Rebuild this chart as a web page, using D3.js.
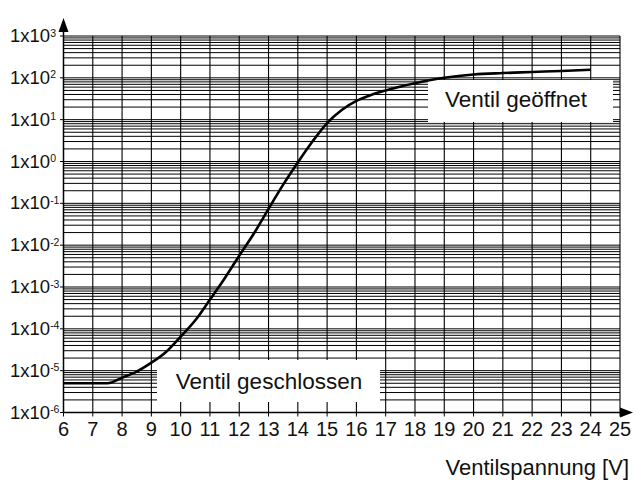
<!DOCTYPE html>
<html>
<head>
<meta charset="utf-8">
<script src="https://cdn.jsdelivr.net/npm/d3@7/dist/d3.min.js"></script>
<style>
body { margin: 0; background: #fff; }
text { font-family: "Liberation Sans", Arial, sans-serif; fill: #111; }
</style>
</head>
<body>
<div id="chart"></div>
<script>
// valve voltage [V] vs. leak rate (log scale)
var voltage = [6, 7.5, 8, 8.5, 9, 9.5, 10, 10.5, 11, 11.5, 12, 12.5, 13, 13.5, 14, 14.5, 15, 15.5, 16, 16.5, 17, 18, 19, 20, 21, 22, 23, 24];
var flow = [5e-6, 5e-6, 6.8e-6, 9.5e-6, 1.55e-5, 2.8e-5, 6.5e-5, 1.6e-4, 5.0e-4, 1.6e-3, 5.6e-3, 1.9e-2, 7.4e-2, 0.28, 0.95, 3.0, 8.3, 17, 28, 39, 50, 74, 100, 120, 130, 138, 146, 156];

var xTicks = d3.range(6, 26);
var decades = [-6, -5, -4, -3, -2, -1, 0, 1, 2, 3];

var openLabel = "Ventil geöffnet";
var closedLabel = "Ventil geschlossen";
var xTitle = "Ventilspannung [V]";

var svg = d3.select("#chart")
    .append("svg")
    .attr("width", 633)
    .attr("height", 481);

var x = d3.scaleLinear().domain([6, 25]).range([63.5, 620]);
var y = d3.scaleLog().domain([1e-6, 1e3]).range([412.5, 36]);

// minor log grid: 1..9 x 10^n
var gridVals = [];
decades.forEach(function (n) {
    if (n == 3) { gridVals.push(1e3); return; }
    for (var k = 1; k <= 9; k++) gridVals.push(k * Math.pow(10, n));
});

var grid = svg.append("g").attr("class", "grid");

grid.selectAll(".h")
    .data(gridVals)
    .enter().append("line")
    .attr("class", "h")
    .attr("x1", x(6)).attr("x2", x(25))
    .attr("y1", function (d) { return y(d); })
    .attr("y2", function (d) { return y(d); })
    .attr("stroke", "#000")
    .attr("stroke-width", 1);

grid.selectAll(".v")
    .data(xTicks.slice(1))
    .enter().append("line")
    .attr("class", "v")
    .attr("x1", function (d) { return x(d); })
    .attr("x2", function (d) { return x(d); })
    .attr("y1", y(1e3)).attr("y2", y(1e-6))
    .attr("stroke", "#000")
    .attr("stroke-width", 1.1);

// white label boxes
svg.append("rect").attr("x", 428).attr("y", 80).attr("width", 185).attr("height", 42).attr("fill", "#fff");
svg.append("text").attr("x", 516).attr("y", 107).attr("text-anchor", "middle")
    .style("font-size", "22.5px").text(openLabel);

svg.append("rect").attr("x", 157).attr("y", 360).attr("width", 223).attr("height", 42).attr("fill", "#fff");
svg.append("text").attr("x", 269).attr("y", 389).attr("text-anchor", "middle")
    .style("font-size", "22.5px").text(closedLabel);

// axes
svg.append("line").attr("x1", x(6)).attr("x2", x(6)).attr("y1", y(1e-6)).attr("y2", 30)
    .attr("stroke", "#000").attr("stroke-width", 1.5);
svg.append("path").attr("d", "M63.5,18 L58.5,32 L68.5,32 Z").attr("fill", "#000");

svg.append("line").attr("x1", x(6)).attr("x2", 622).attr("y1", y(1e-6)).attr("y2", y(1e-6))
    .attr("stroke", "#000").attr("stroke-width", 1.5);
svg.append("path").attr("d", "M633,412.5 L620,407.5 L620,417.5 Z").attr("fill", "#000");

// x ticks + labels
svg.selectAll(".xt")
    .data(xTicks)
    .enter().append("line")
    .attr("class", "xt")
    .attr("x1", function (d) { return x(d); })
    .attr("x2", function (d) { return x(d); })
    .attr("y1", 412.5).attr("y2", 416.5)
    .attr("stroke", "#000");

svg.selectAll(".xl")
    .data(xTicks)
    .enter().append("text")
    .attr("class", "xl")
    .attr("x", function (d) { return x(d); })
    .attr("y", 435.5)
    .attr("text-anchor", "middle")
    .style("font-size", "20px")
    .text(function (d) { return d; });

// y ticks + labels
svg.selectAll(".yt")
    .data(decades)
    .enter().append("line")
    .attr("class", "yt")
    .attr("x1", 60).attr("x2", 63.5)
    .attr("y1", function (d) { return y(Math.pow(10, d)); })
    .attr("y2", function (d) { return y(Math.pow(10, d)); })
    .attr("stroke", "#000");

let yl = svg.selectAll(".yl")
    .data(decades)
    .enter().append("text")
    .attr("class", "yl")
    .attr("x", 10)
    .attr("y", function (d) { return y(Math.pow(10, d)) + 6; })
    .style("font-size", "18.5px");
yl.append("tspan").text("1x10");
yl.append("tspan").attr("dy", -5.5).style("font-size", "10.5px")
    .text(function (d) { return d < 0 ? "-" + (-d) : d; });

svg.append("text").attr("x", 629).attr("y", 475).attr("text-anchor", "end")
    .style("font-size", "22px").text(xTitle);

// curve
var pts = voltage.map(function (v, i) { return [v, flow[i]]; });
var lineFunc = d3.line()
    .x(function (d) { return x(d[0]); })
    .y(function (d) { return y(d[1]); })
    .curve(d3.curveMonotoneX);

svg.append("path")
    .attr("d", lineFunc(pts))
    .attr("fill", "none")
    .attr("stroke", "#000")
    .attr("stroke-width", 2.6);
</script>
</body>
</html>
